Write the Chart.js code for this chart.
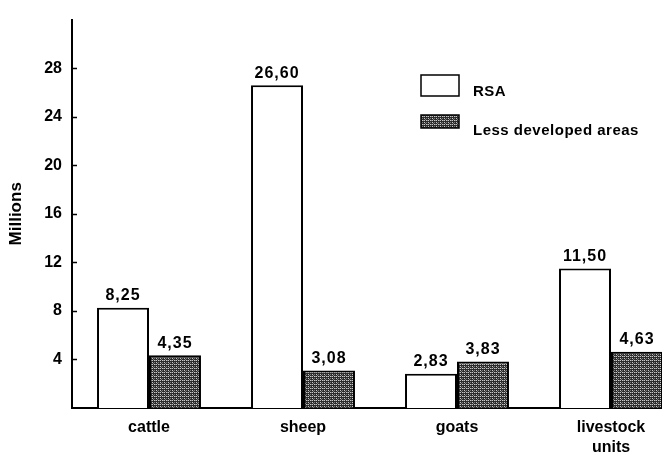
<!DOCTYPE html>
<html>
<head>
<meta charset="utf-8">
<script src="https://cdn.jsdelivr.net/npm/chart.js@4/dist/chart.umd.min.js"></script>
<style>
  html, body { margin: 0; padding: 0; background: #fff; overflow: hidden; width: 662px; height: 462px; }
  canvas { display: block; }
</style>
</head>
<body>
<canvas id="c" width="700" height="462"></canvas>
<script>
const categories = ['cattle', 'sheep', 'goats', ['livestock', 'units']];
const seriesNames = ['RSA', 'Less developed areas'];
const rsaValues = [8.25, 26.60, 2.83, 11.50];
const ldaValues = [4.35, 3.08, 3.83, 4.63];
const yTicks = [4, 8, 12, 16, 20, 24, 28];
const yTitle = 'Millions';

const FONT = '"Liberation Sans", Arial, Helvetica, sans-serif';

const ctxMain = document.getElementById('c').getContext('2d');
const pattern = ctxMain.createPattern((function(){
  const t = document.createElement('canvas');
  t.width = 4; t.height = 4;
  const g = t.getContext('2d');
  g.fillStyle = '#2c2c2c';
  g.fillRect(0, 0, 4, 4);
  g.fillStyle = '#c8c8c8';
  g.fillRect(0, 0, 1, 1); g.fillRect(2, 0, 1, 1);
  g.fillRect(0, 2, 1, 1);
  g.fillStyle = '#7a7a7a';
  g.fillRect(3, 0, 1, 1); g.fillRect(2, 2, 1, 1); g.fillRect(1, 3, 1, 1);
  return t;
})(), 'repeat');

const extras = {
  id: 'extras',
  afterDatasetsDraw(chart) {
    const ctx = chart.ctx;
    const y = chart.scales.y;
    const area = chart.chartArea;
    ctx.save();
    // inward tick marks
    ctx.strokeStyle = '#000';
    ctx.lineWidth = 1.5;
    yTicks.forEach(v => {
      const py = Math.round(y.getPixelForValue(v)) + 0.5;
      ctx.beginPath();
      ctx.moveTo(area.left, py);
      ctx.lineTo(area.left + 5, py);
      ctx.stroke();
    });
    // value labels
    ctx.fillStyle = '#000';
    ctx.font = 'bold 16px ' + FONT;
    if ('letterSpacing' in ctx) ctx.letterSpacing = '1px';
    ctx.textAlign = 'center';
    ctx.textBaseline = 'bottom';
    chart.data.datasets.forEach((ds, di) => {
      const meta = chart.getDatasetMeta(di);
      meta.data.forEach((bar, i) => {
        const txt = ds.data[i].toFixed(2).replace('.', ',');
        ctx.fillText(txt, bar.x, bar.y - 4);
      });
    });
    // legend
    const lx = 421, boxW = 38;
    const items = [
      { y: 75, h: 21, ty: 92 },
      { y: 115, h: 13, ty: 131 }
    ];
    ctx.textAlign = 'left';
    ctx.textBaseline = 'middle';
    ctx.font = 'bold 15px ' + FONT;
    if ('letterSpacing' in ctx) ctx.letterSpacing = '0.5px';
    chart.data.datasets.forEach((ds, di) => {
      const it = items[di];
      ctx.fillStyle = ds.backgroundColor;
      ctx.fillRect(lx, it.y, boxW, it.h);
      ctx.strokeStyle = '#000';
      ctx.lineWidth = 1.5;
      ctx.strokeRect(lx, it.y, boxW, it.h);
      ctx.fillStyle = '#000';
      ctx.fillText(ds.label, 473, it.ty);
    });
    ctx.restore();
  }
};

new Chart(ctxMain, {
  type: 'bar',
  data: {
    labels: categories,
    datasets: [
      { label: seriesNames[0], data: rsaValues, backgroundColor: '#ffffff', borderColor: '#000', borderWidth: 2 },
      { label: seriesNames[1], data: ldaValues, backgroundColor: pattern, borderColor: '#000', borderWidth: 2 }
    ]
  },
  options: {
    responsive: false,
    animation: false,
    layout: { padding: { top: 12, right: 12, bottom: 0, left: 0 } },
    plugins: { legend: { display: false }, tooltip: { enabled: false } },
    datasets: { bar: { categoryPercentage: 0.675, barPercentage: 1.0 } },
    scales: {
      x: {
        grid: { display: false, drawTicks: false },
        border: { display: true, color: '#000', width: 2 },
        ticks: { color: '#000', padding: 10, font: { family: FONT, size: 16, weight: 'bold', lineHeight: 1.25 }, maxRotation: 0, autoSkip: false },
        afterFit(s) { s.height = 54; }
      },
      y: {
        min: 0, max: 32,
        grid: { display: false, drawTicks: false },
        border: { display: true, color: '#000', width: 2 },
        ticks: { color: '#000', stepSize: 4, padding: 10, font: { family: FONT, size: 16, weight: 'bold' } },
        afterBuildTicks(s) { s.ticks = yTicks.map(v => ({ value: v })); },
        title: { display: true, text: yTitle, color: '#000', font: { family: FONT, size: 17, weight: 'bold', lineHeight: 1.2 }, padding: { top: 6, bottom: 0 } },
        afterFit(s) { s.width = 72; }
      }
    }
  },
  plugins: [extras]
});
</script>
</body>
</html>
